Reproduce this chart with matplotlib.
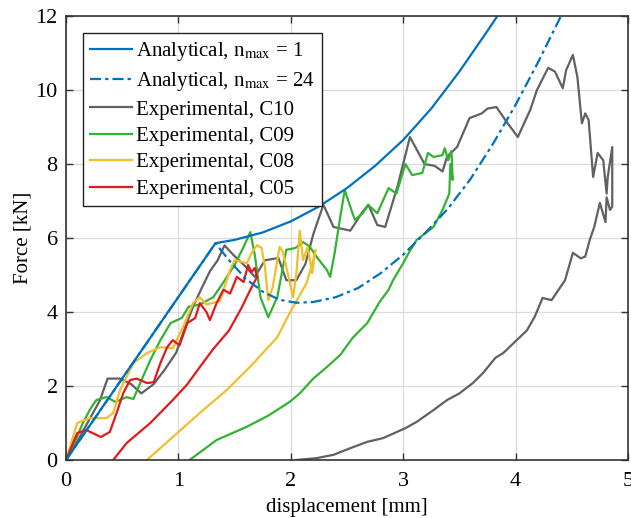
import matplotlib
matplotlib.use("Agg")
import matplotlib.pyplot as plt

plt.rcParams['font.family'] = ['Liberation Serif', 'DejaVu Serif']
plt.rcParams['mathtext.fontset'] = 'stix'

# analytical, n_max = 1
x_a1 = [0, 1.33, 1.5, 1.75, 2.0, 2.25, 2.5, 2.75, 3.0, 3.25, 3.5, 3.75, 3.86]
f_a1 = [0, 5.86, 5.95, 6.15, 6.45, 6.85, 7.35, 7.95, 8.65, 9.5, 10.5, 11.6, 12.1]

# analytical, n_max = 24
x_a24 = [0, 1.33, 1.45, 1.6, 1.75, 1.9, 2.05, 2.2, 2.4, 2.6, 2.8, 3.0, 3.2, 3.4,
         3.6, 3.8, 4.0, 4.2, 4.42]
f_a24 = [0, 5.86, 5.4, 4.9, 4.55, 4.33, 4.25, 4.27, 4.4, 4.65, 5.05, 5.55, 6.15,
         6.8, 7.6, 8.55, 9.6, 10.75, 12.1]

# experimental, C10
x_c10 = [0, 0.1, 0.2, 0.3, 0.37, 0.48, 0.58, 0.67, 0.78, 0.88, 0.98, 1.05, 1.13,
         1.2, 1.28, 1.35, 1.41, 1.49, 1.61, 1.68, 1.77, 1.89, 1.96, 2.05, 2.13,
         2.2, 2.29, 2.38, 2.53, 2.63, 2.69, 2.77, 2.84, 2.95, 3.06, 3.19, 3.28,
         3.35, 3.39, 3.48, 3.59, 3.7, 3.75, 3.83, 3.92, 4.02, 4.13, 4.19, 4.29,
         4.35, 4.42, 4.45, 4.51, 4.55, 4.59, 4.62, 4.65, 4.69, 4.73, 4.78, 4.81,
         4.82, 4.86, 4.86, 4.84, 4.81, 4.8, 4.75, 4.7, 4.66, 4.62, 4.58, 4.51,
         4.44, 4.32, 4.24, 4.17, 4.1, 4.01, 3.89, 3.82, 3.71, 3.62, 3.5, 3.39,
         3.27, 3.12, 3.02, 2.82, 2.68, 2.53, 2.38, 2.23, 2.05]
f_c10 = [0, 0.5, 1.05, 1.6, 2.2, 2.2, 2.05, 1.8, 2.05, 2.45, 2.9, 3.5, 4.14,
         4.6, 5.1, 5.4, 5.8, 5.54, 5.19, 4.95, 5.4, 5.46, 4.86, 4.86, 5.3,
         6.1, 6.9, 6.3, 6.2, 6.67, 6.9, 6.35, 6.3, 7.4, 8.73, 8.0, 7.95,
         7.8, 8.2, 8.46, 9.24, 9.37, 9.5, 9.54, 9.14, 8.73, 9.46, 10.0, 10.6,
         10.5, 10.05, 10.54, 10.95, 10.35, 9.1, 9.37, 9.19, 7.65, 8.3, 8.1, 7.2,
         7.65, 8.46, 6.85, 6.76, 7.1, 6.43, 6.95, 6.3, 5.95, 5.5, 5.45, 5.6,
         4.86, 4.32, 4.38, 3.87, 3.5, 3.24, 2.89, 2.76, 2.35, 2.08, 1.8, 1.62,
         1.35, 1.03, 0.86, 0.59, 0.49, 0.32, 0.14, 0.05, 0]

# experimental, C09
x_c09 = [0, 0.08, 0.15, 0.22, 0.27, 0.36, 0.44, 0.54, 0.6, 0.66, 0.75, 0.84,
         0.93, 1.03, 1.09, 1.19, 1.31, 1.4, 1.5, 1.58, 1.64, 1.68, 1.73, 1.8,
         1.88, 1.93, 1.96, 2.04, 2.11, 2.17, 2.23, 2.32, 2.35, 2.39, 2.44, 2.48,
         2.53, 2.57, 2.64, 2.69, 2.77, 2.87, 2.94, 3.02, 3.08, 3.17, 3.22, 3.27,
         3.35, 3.37, 3.4, 3.43, 3.44, 3.42, 3.41, 3.35, 3.27, 3.12, 3.05, 3.0,
         2.91, 2.87, 2.79, 2.68, 2.55, 2.44, 2.32, 2.2, 2.08, 1.99, 1.8, 1.61,
         1.34, 1.1]
f_c09 = [0, 0.5, 1.0, 1.4, 1.62, 1.7, 1.57, 1.7, 1.65, 2.08, 2.7, 3.24,
         3.7, 3.84, 4.14, 4.2, 4.4, 4.8, 5.27, 5.76, 6.16, 5.54, 4.4, 3.86,
         4.4, 5.22, 5.68, 5.73, 5.89, 5.76, 5.49, 5.14, 4.95, 5.59, 6.57, 7.3,
         6.84, 6.49, 6.67, 6.89, 6.67, 7.35, 7.2, 8.0, 7.7, 7.76, 8.3, 8.19,
         8.24, 8.43, 8.1, 8.35, 7.57, 8.0, 7.2, 6.76, 6.3, 5.95, 5.6, 5.32,
         4.86, 4.6, 4.27, 3.7, 3.3, 2.84, 2.51, 2.2, 1.8, 1.57, 1.2, 0.9,
         0.54, 0]

# experimental, C08
x_c08 = [0, 0.1, 0.21, 0.36, 0.42, 0.48, 0.6, 0.72, 0.84, 0.95, 1.04, 1.13,
         1.19, 1.25, 1.37, 1.46, 1.5, 1.61, 1.65, 1.7, 1.74, 1.77, 1.8, 1.84,
         1.9, 1.93, 1.98, 2.02, 2.05, 2.08, 2.11, 2.15, 2.19, 2.22, 2.2, 2.14,
         1.99, 1.88, 1.67, 1.43, 1.19, 0.95, 0.72]
f_c08 = [0, 1.0, 1.13, 1.13, 1.27, 1.89, 2.62, 2.89, 3.05, 3.02, 3.59, 4.24,
         4.4, 4.2, 4.3, 5.14, 5.4, 5.32, 5.59, 5.81, 5.73, 5.22, 4.32, 4.68,
         5.76, 5.62, 4.95, 4.4, 5.05, 6.2, 5.4, 5.76, 5.05, 5.68, 5.4, 4.78,
         3.97, 3.32, 2.62, 1.89, 1.27, 0.62, 0]

# experimental, C05
x_c05 = [0, 0.1, 0.18, 0.27, 0.31, 0.39, 0.45, 0.51, 0.57, 0.63, 0.72, 0.78,
         0.84, 0.9, 0.95, 1.01, 1.08, 1.15, 1.19, 1.25, 1.28, 1.34, 1.4, 1.46,
         1.52, 1.58, 1.62, 1.65, 1.68, 1.7, 1.64, 1.56, 1.45, 1.31, 1.2, 1.08,
         0.95, 0.75, 0.54, 0.42]
f_c05 = [0, 0.73, 0.81, 0.68, 0.62, 0.76, 1.27, 1.81, 2.16, 2.2, 2.08, 2.1,
         2.62, 3.05, 3.24, 3.1, 3.7, 3.84, 4.24, 4.0, 3.78, 4.24, 4.6, 4.5,
         4.95, 4.81, 5.27, 5.08, 5.19, 4.95, 4.6, 4.1, 3.5, 3.0, 2.55, 2.05,
         1.62, 1.0, 0.46, 0]

fig = plt.figure(figsize=(6.31, 5.18), dpi=100)
ax = fig.add_axes([0.1046, 0.112, 0.8906, 0.857])

lw = 1.6
ax.plot(x_a1, f_a1, color='#0072BD', lw=lw,
        label=r'Analytical, n$_{\mathrm{max}}$ = 1', zorder=5)
ax.plot(x_a24, f_a24, color='#0072BD', lw=lw, ls=(0, (5, 1.8, 1.5, 1.8)),
        label=r'Analytical, n$_{\mathrm{max}}$ = 24', zorder=5)
ax.plot(x_c10, f_c10, color='#616161', lw=lw, label='Experimental, C10')
ax.plot(x_c09, f_c09, color='#33B233', lw=lw, label='Experimental, C09')
ax.plot(x_c08, f_c08, color='#F2BE2A', lw=lw, label='Experimental, C08')
ax.plot(x_c05, f_c05, color='#E31A1A', lw=lw, label='Experimental, C05')

ax.set_xlim(0, 5)
ax.set_ylim(0, 12)
ax.set_xticks([0, 1, 2, 3, 4, 5])
ax.set_yticks([0, 2, 4, 6, 8, 10, 12])
ax.grid(True, color='#dcdcdc', lw=0.9)
ax.set_axisbelow(True)
ax.tick_params(direction='in', top=True, right=True, labelsize=16, length=5,
               width=1, color='#333333', pad=6)
ax.tick_params(axis='x', pad=9)
for s in ax.spines.values():
    s.set_linewidth(1.2)
    s.set_color('#333333')
    s.set_zorder(10)

ax.set_xlabel('displacement [mm]', fontsize=15, labelpad=5)
ax.set_ylabel('Force [kN]', fontsize=15, labelpad=2)

leg = ax.legend(loc='upper left', bbox_to_anchor=(0.03, 0.962), borderaxespad=0,
                fontsize=15, handlelength=2.0, handletextpad=0.2,
                labelspacing=0.33, borderpad=0.35, fancybox=False,
                framealpha=1, edgecolor='#222222')
leg.get_frame().set_linewidth(1.0)

fig.savefig('out.png', dpi=100)
